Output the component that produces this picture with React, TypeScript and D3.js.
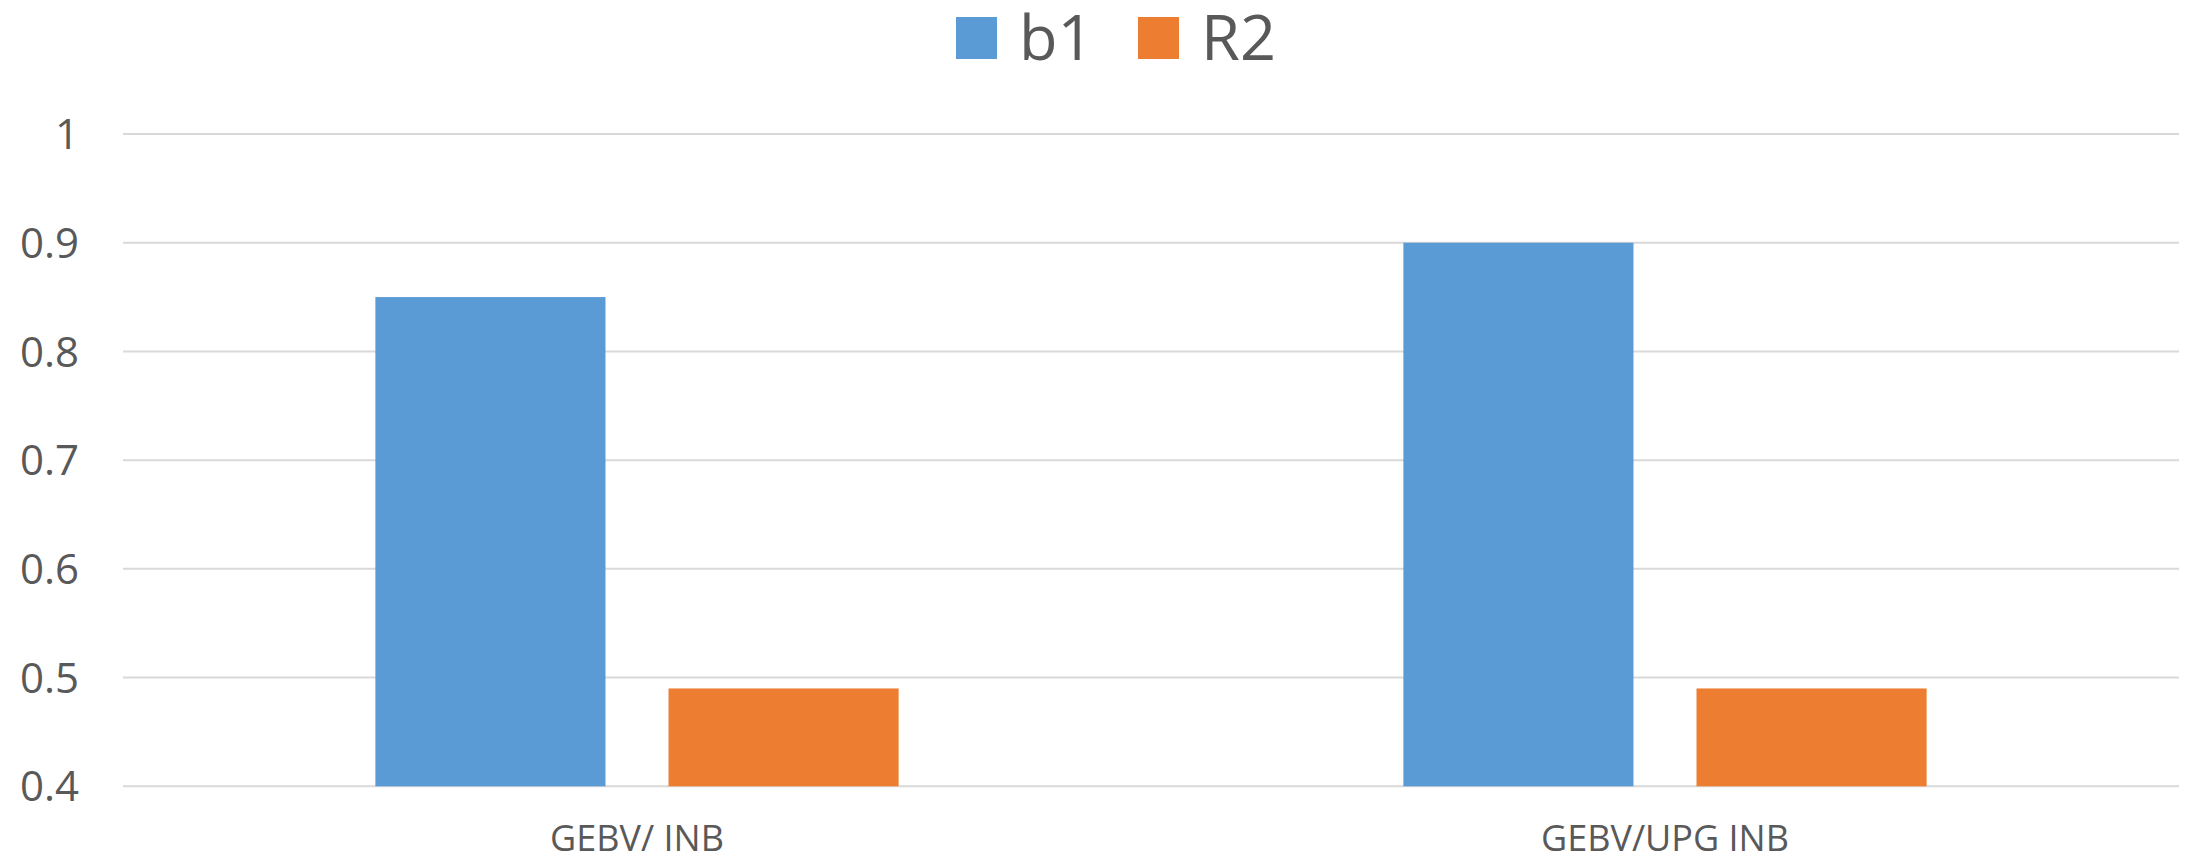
import React from "react";
import * as d3 from "d3";

const categories = ["GEBV/ INB", "GEBV/UPG INB"];
const seriesNames = ["b1", "R2"];
const b1Values = [0.85, 0.9];
const r2Values = [0.49, 0.49];
const yTicks = [0.4, 0.5, 0.6, 0.7, 0.8, 0.9, 1];
const seriesColors = ["#5B9BD5", "#ED7D31"];

const W = 2191;
const H = 862;
const plot = { left: 123, right: 2179, top: 134, bottom: 786.3 };
const FONT = "'Open Sans', 'Noto Sans', sans-serif";
const TEXT = "#595959";

export default function App() {
  const rows = categories.map((c, i) => ({ cat: c, values: [b1Values[i], r2Values[i]] }));

  const x0 = d3
    .scaleBand<string>()
    .domain(categories)
    .range([plot.left, plot.right])
    .paddingInner(0.491)
    .paddingOuter(0.2455);

  const x1 = d3
    .scaleBand<string>()
    .domain(seriesNames)
    .range([0, x0.bandwidth()])
    .paddingInner(0.215)
    .paddingOuter(0);

  const y = d3.scaleLinear().domain([0.4, 1]).range([plot.bottom, plot.top]);

  const legendX = [956, 1138];

  return (
    <svg
      width={W}
      height={H}
      viewBox={`0 0 ${W} ${H}`}
      style={{ position: "absolute", left: 0, top: 0, background: "#fff" }}
    >
      <rect x={0} y={0} width={W} height={H} fill="#fff" />

      {/* gridlines and y tick labels */}
      {yTicks.map((t) => (
        <g key={t}>
          <line
            x1={plot.left}
            x2={plot.right}
            y1={y(t)}
            y2={y(t)}
            stroke="#d9d9d9"
            strokeWidth={2}
          />
          <text
            x={79}
            y={y(t)}
            dy="0.36em"
            textAnchor="end"
            fontFamily={FONT}
            fontSize={42}
            fill={TEXT}
          >
            {d3.format("~g")(t)}
          </text>
        </g>
      ))}

      {/* bars */}
      {rows.map((r) => (
        <g key={r.cat} transform={`translate(${x0(r.cat)},0)`}>
          {seriesNames.map((s, j) => (
            <rect
              key={s}
              x={x1(s)}
              width={x1.bandwidth()}
              y={y(r.values[j])}
              height={y(0.4) - y(r.values[j])}
              fill={seriesColors[j]}
            />
          ))}
        </g>
      ))}

      {/* category labels */}
      {categories.map((c) => (
        <text
          key={c}
          x={(x0(c) as number) + x0.bandwidth() / 2}
          y={851}
          textAnchor="middle"
          fontFamily={FONT}
          fontSize={36}
          fill={TEXT}
        >
          {c}
        </text>
      ))}

      {/* legend */}
      {seriesNames.map((s, i) => (
        <g key={s}>
          <rect x={legendX[i]} y={17} width={41} height={42} fill={seriesColors[i]} />
          <text
            x={legendX[i] + 63}
            y={60}
            fontFamily={FONT}
            fontSize={63}
            fill={TEXT}
          >
            {s}
          </text>
        </g>
      ))}
    </svg>
  );
}
